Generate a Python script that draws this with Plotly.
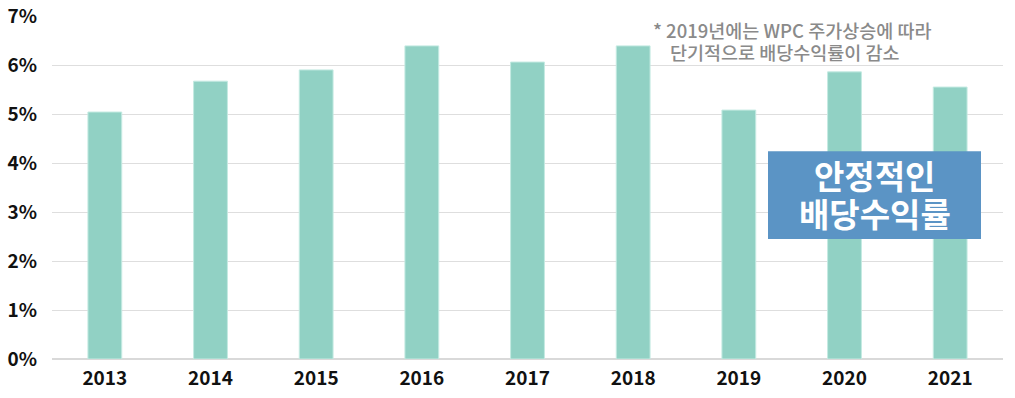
import plotly.graph_objects as go

years = ["2013", "2014", "2015", "2016", "2017", "2018", "2019", "2020", "2021"]
yield_pct = [5.04, 5.67, 5.90, 6.39, 6.06, 6.39, 5.08, 5.86, 5.55]
y_ticks = [0, 1, 2, 3, 4, 5, 6, 7]
y_tick_labels = [f"{v}%" for v in y_ticks]
note_lines = ["* 2019년에는 WPC 주가상승에 따라", "단기적으로 배당수익률이 감소"]
box_lines = ["안정적인", "배당수익률"]

FONT = "Noto Sans CJK KR"

fig = go.Figure()
fig.add_trace(go.Bar(
    x=years, y=yield_pct,
    marker=dict(color="#91d1c4", line=dict(color="#c4eae2", width=1)),
    width=0.32,
    hoverinfo="x+y",
))

fig.update_layout(
    width=1015, height=398,
    margin=dict(l=52, r=12, t=16, b=39),
    plot_bgcolor="white", paper_bgcolor="white",
    showlegend=False,
    font=dict(family=FONT, color="#111111"),
    xaxis=dict(
        showgrid=False, showline=True, linecolor="#d9d9d9", linewidth=1,
        tickfont=dict(family=FONT, size=19, color="#111111", weight=600),
        ticks="", ticklabelstandoff=2, automargin=False,
    ),
    yaxis=dict(
        range=[0, 7], tickvals=y_ticks, ticktext=y_tick_labels,
        showgrid=True, gridcolor="#dedede", gridwidth=1,
        zeroline=True, zerolinecolor="#d9d9d9",
        tickfont=dict(family=FONT, size=19, color="#111111", weight="bold"),
        ticks="", ticklabelstandoff=14, automargin=False,
    ),
)

note_pos = [(651, 30), (668, 52)]
for line, (px, py) in zip(note_lines, note_pos):
    fig.add_annotation(
        xref="paper", yref="paper", x=(px - 52) / 951, y=(359 - py) / 343,
        xanchor="left", yanchor="middle", align="left",
        text=line, showarrow=False,
        font=dict(family=FONT, size=18.5, color="#8a8a8a", weight=500),
    )

fig.add_shape(
    type="rect", xref="paper", yref="y",
    x0=(768 - 52) / 951, x1=(981 - 52) / 951, y0=2.45, y1=4.24,
    fillcolor="#5b94c5", line=dict(width=0), layer="above",
)
box_y = [3.75, 2.98]
for line, yy in zip(box_lines, box_y):
    fig.add_annotation(
        xref="paper", yref="y", x=(874.5 - 52) / 951, y=yy,
        xanchor="center", yanchor="middle", align="center",
        text=line, showarrow=False,
        font=dict(family=FONT, size=33, color="white", weight="bold"),
    )

fig.write_html("out.html")
